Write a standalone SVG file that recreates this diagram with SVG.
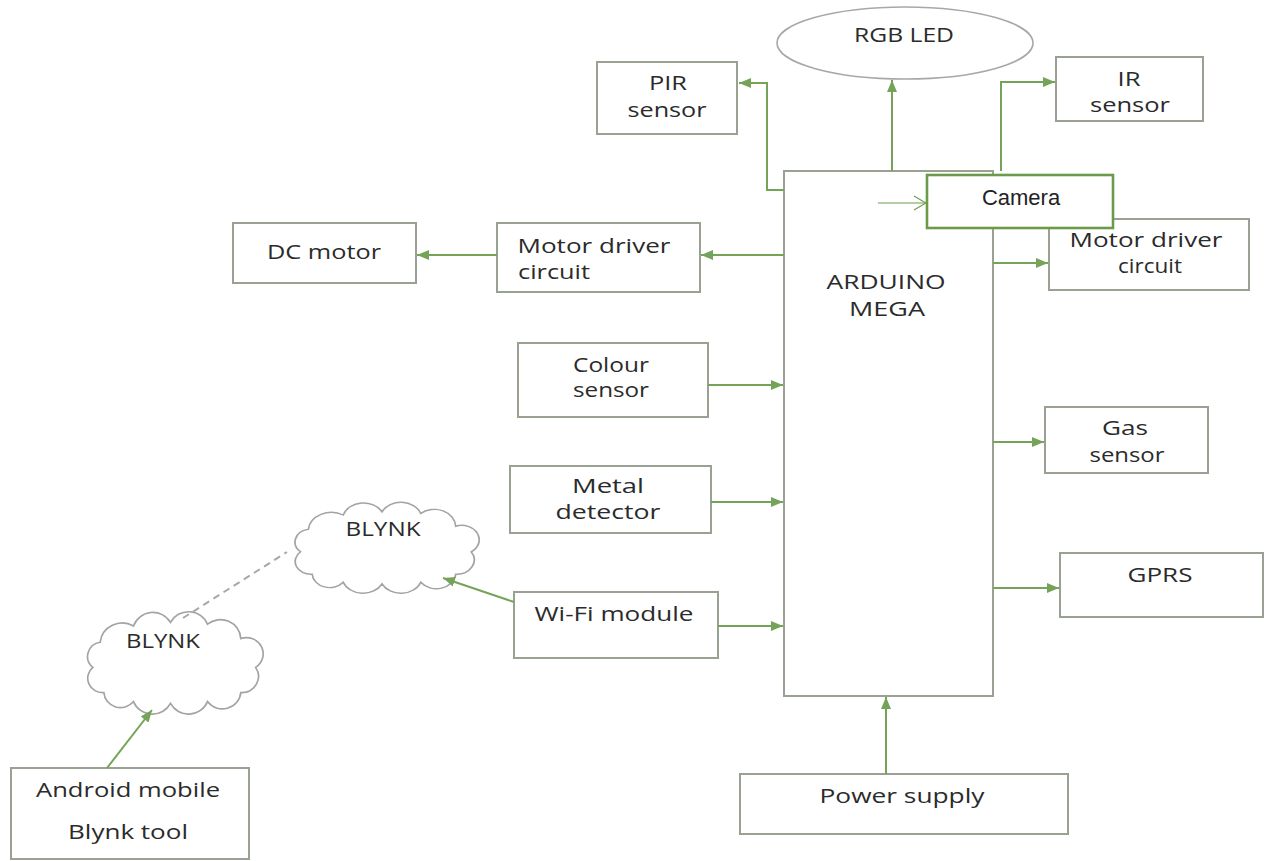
<svg xmlns="http://www.w3.org/2000/svg" width="1266" height="861" viewBox="0 0 1266 861">
<style>
.box{fill:#fff;stroke:#99a192;stroke-width:2}
.cloud{fill:#fff;stroke:#a3a3a3;stroke-width:0.9}
.t{font-family:"Open Sans","Liberation Sans",sans-serif;font-size:20px;font-weight:400;fill:#2b2b2b;text-anchor:middle}
.conn{fill:none;stroke:#76a35a;stroke-width:2}
.dash{fill:none;stroke:#a8a8a8;stroke-width:2;stroke-dasharray:7,5}
</style>
<defs>
<marker id="ah" markerUnits="userSpaceOnUse" markerWidth="14" markerHeight="12" refX="12" refY="6" orient="auto">
<path d="M0,1 L12,6 L0,11 Z" fill="#76a35a"/>
</marker>
<marker id="open" markerUnits="userSpaceOnUse" markerWidth="14" markerHeight="16" refX="13" refY="8" orient="auto">
<path d="M1,1 L13,8 L1,15" fill="none" stroke="#6c9a4b" stroke-width="1.2"/>
</marker>
<path id="cloudshape" d="M8,28 A8,8 0 0 1 12,14 A12,12 0 0 1 30,5 A11,11 0 0 1 50,3 A11,11 0 0 1 70,4 A11,11 0 0 1 88,12 A9,9 0 0 1 96,28 A9,9 0 0 1 88,42 A10,10 0 0 1 70,47 A11,11 0 0 1 50,48 A11,11 0 0 1 30,47 A9,9 0 0 1 14,42 A8,8 0 0 1 8,28 Z"/>
</defs>
<rect width="1266" height="861" fill="#fff"/>

<g id="rgb-led">
<ellipse cx="905" cy="43" rx="128" ry="36" fill="#fff" stroke="#a8a8a8" stroke-width="1.6"/>
<text class="t" x="904" y="42" textLength="100" lengthAdjust="spacingAndGlyphs">RGB LED</text>
</g>
<g id="pir-sensor">
<rect class="box" x="597" y="62" width="140" height="72"/>
<text class="t" x="668" y="90" textLength="38" lengthAdjust="spacingAndGlyphs">PIR</text>
<text class="t" x="667" y="117" textLength="79" lengthAdjust="spacingAndGlyphs">sensor</text>
</g>
<g id="ir-sensor">
<rect class="box" x="1056" y="57" width="147" height="64"/>
<text class="t" x="1129" y="86" textLength="23" lengthAdjust="spacingAndGlyphs">IR</text>
<text class="t" x="1130" y="112" textLength="80" lengthAdjust="spacingAndGlyphs">sensor</text>
</g>
<g id="arduino-mega">
<rect class="box" x="784" y="171" width="209" height="525"/>
<text class="t" x="886" y="289" textLength="119" lengthAdjust="spacingAndGlyphs">ARDUINO</text>
<text class="t" x="887" y="316" textLength="76" lengthAdjust="spacingAndGlyphs">MEGA</text>
</g>
<g id="dc-motor">
<rect class="box" x="233" y="223" width="183" height="60"/>
<text class="t" x="324" y="259" textLength="114" lengthAdjust="spacingAndGlyphs">DC motor</text>
</g>
<g id="motor-driver-left">
<rect class="box" x="497" y="223" width="203" height="69"/>
<text class="t" x="594" y="253" textLength="153" lengthAdjust="spacingAndGlyphs">Motor driver</text>
<text class="t" x="554" y="279" textLength="72" lengthAdjust="spacingAndGlyphs">circuit</text>
</g>
<g id="motor-driver-right">
<rect class="box" x="1049" y="219" width="200" height="71"/>
<text class="t" x="1146" y="247" textLength="153" lengthAdjust="spacingAndGlyphs">Motor driver</text>
<text class="t" x="1150" y="273" textLength="64" lengthAdjust="spacingAndGlyphs">circuit</text>
</g>
<g id="colour-sensor">
<rect class="box" x="518" y="343" width="190" height="74"/>
<text class="t" x="611" y="372" textLength="76" lengthAdjust="spacingAndGlyphs">Colour</text>
<text class="t" x="611" y="397" textLength="76" lengthAdjust="spacingAndGlyphs">sensor</text>
</g>
<g id="metal-detector">
<rect class="box" x="510" y="466" width="201" height="67"/>
<text class="t" x="608" y="493" textLength="72" lengthAdjust="spacingAndGlyphs">Metal</text>
<text class="t" x="608" y="519" textLength="105" lengthAdjust="spacingAndGlyphs">detector</text>
</g>
<g id="wifi-module">
<rect class="box" x="514" y="592" width="204" height="66"/>
<text class="t" x="614" y="621" textLength="159" lengthAdjust="spacingAndGlyphs">Wi-Fi module</text>
</g>
<g id="gas-sensor">
<rect class="box" x="1045" y="407" width="163" height="66"/>
<text class="t" x="1125" y="435" textLength="46" lengthAdjust="spacingAndGlyphs">Gas</text>
<text class="t" x="1127" y="462" textLength="75" lengthAdjust="spacingAndGlyphs">sensor</text>
</g>
<g id="gprs">
<rect class="box" x="1060" y="553" width="203" height="64"/>
<text class="t" x="1160" y="582" textLength="65" lengthAdjust="spacingAndGlyphs">GPRS</text>
</g>
<g id="power-supply">
<rect class="box" x="740" y="774" width="328" height="60"/>
<text class="t" x="902" y="803" textLength="165" lengthAdjust="spacingAndGlyphs">Power supply</text>
</g>
<g id="android-mobile">
<rect class="box" x="11" y="768" width="238" height="91"/>
<text class="t" x="128" y="797" textLength="184" lengthAdjust="spacingAndGlyphs">Android mobile</text>
<text class="t" x="128" y="839" textLength="120" lengthAdjust="spacingAndGlyphs">Blynk tool</text>
</g>
<g id="blynk-cloud-upper">
<use href="#cloudshape" class="cloud" transform="translate(285,507) scale(1.94,1.6)"/>
<text class="t" x="383" y="536" textLength="75" lengthAdjust="spacingAndGlyphs">BLYNK</text>
</g>
<g id="blynk-cloud-lower">
<use href="#cloudshape" class="cloud" transform="translate(78,617) scale(1.85,1.8)"/>
<text class="t" x="163" y="648" textLength="74" lengthAdjust="spacingAndGlyphs">BLYNK</text>
</g>

<g id="connectors">
<polyline class="conn" points="784,190 767,190 767,83 739,83" marker-end="url(#ah)"/>
<line class="conn" x1="892" y1="171" x2="892" y2="80" marker-end="url(#ah)"/>
<polyline class="conn" points="1001,171 1001,82 1055,82" marker-end="url(#ah)"/>
<line class="conn" x1="784" y1="255" x2="701" y2="255" marker-end="url(#ah)"/>
<line class="conn" x1="497" y1="255" x2="417" y2="255" marker-end="url(#ah)"/>
<line class="conn" x1="993" y1="263" x2="1048" y2="263" marker-end="url(#ah)"/>
<line class="conn" x1="708" y1="385" x2="783" y2="385" marker-end="url(#ah)"/>
<line class="conn" x1="711" y1="502" x2="783" y2="502" marker-end="url(#ah)"/>
<line class="conn" x1="718" y1="626" x2="783" y2="626" marker-end="url(#ah)"/>
<line class="conn" x1="993" y1="442" x2="1044" y2="442" marker-end="url(#ah)"/>
<line class="conn" x1="993" y1="588" x2="1059" y2="588" marker-end="url(#ah)"/>
<line class="conn" x1="886" y1="774" x2="886" y2="697" marker-end="url(#ah)"/>
<line class="conn" x1="514" y1="602" x2="443" y2="578" marker-end="url(#ah)"/>
<line class="conn" x1="107" y1="768" x2="152" y2="710" marker-end="url(#ah)"/>
<line class="dash" x1="183" y1="618" x2="287" y2="552"/>
<line x1="878" y1="203" x2="926" y2="203" stroke="#6c9a4b" stroke-width="1.2" marker-end="url(#open)"/>
</g>

<g id="camera">
<rect x="927" y="175" width="186" height="53" fill="#fff" stroke="#6c9a4b" stroke-width="2.6"/>
<text x="1021" y="205" font-family="Liberation Sans, Arial, sans-serif" font-size="22" fill="#222" text-anchor="middle">Camera</text>
</g>
</svg>
